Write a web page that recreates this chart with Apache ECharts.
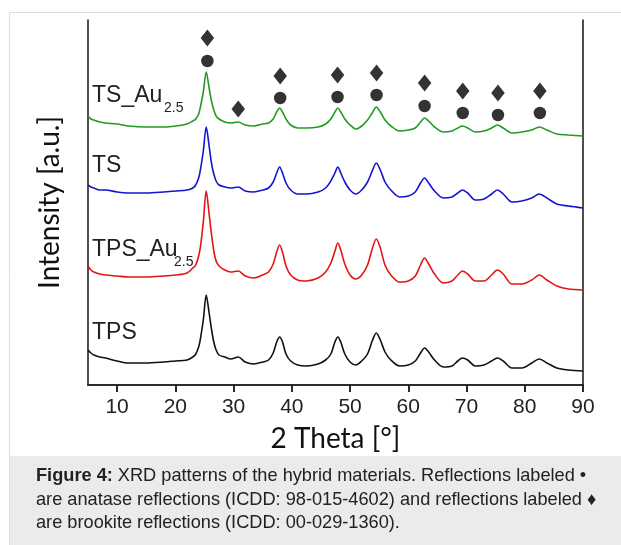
<!DOCTYPE html>
<html>
<head>
<meta charset="utf-8">
<script src="https://cdn.jsdelivr.net/npm/echarts@6/dist/echarts.min.js"></script>
<style>
html,body{margin:0;padding:0;background:#fff;}
#chart{width:621px;height:545px;}
</style>
</head>
<body>
<div id="chart"></div>
<script>
// 2 Theta positions (degrees)
var twoTheta = [5, 5.5, 6, 7, 8, 10, 12, 15, 18, 20,
  22, 23, 23.5, 24, 24.3, 24.8, 25.3, 25.8, 26.2, 26.6,
  27.0, 27.5, 28.5, 29.5, 30.8, 32, 33.5, 35, 36, 36.8,
  37.4, 37.9, 38.4, 39.0, 39.8, 41, 42.5, 44.5, 45.8, 46.7,
  47.4, 47.9, 48.4, 49.1, 50, 51, 52, 53, 53.8, 54.5,
  55.2, 56.0, 57, 58.5, 60, 61.2, 62.1, 62.8, 63.5, 64.5,
  66, 67.5, 68.5, 69.3, 70.2, 71.5, 73, 74.3, 75.3, 76.3,
  77.8, 79.5, 81.2, 82.5, 83.8, 85.5, 87.5, 90];

// Intensities (a.u., vertically offset patterns)
var tsAu = [269, 266, 265, 263, 262, 261, 259, 258, 258, 259,
  261, 264, 266, 271, 278, 293, 313, 297, 284, 275,
  269, 266, 263, 262, 263, 260, 259, 261, 262, 266,
  273, 277, 273, 266, 260, 257, 257, 258, 261, 266,
  273, 277, 273, 266, 260, 256, 259, 265, 272, 278,
  273, 265, 259, 254, 255, 257, 263, 267, 264, 258,
  253, 254, 257, 259, 257, 253, 254, 257, 260, 257,
  252, 253, 255, 258, 255, 251, 250, 249];
var ts = [200, 198, 197, 195, 195, 193, 192, 192, 193, 194,
  195, 197, 200, 207, 215, 234, 258, 239, 222, 211,
  204, 200, 198, 197, 198, 194, 193, 195, 197, 203,
  212, 218, 212, 202, 195, 191, 191, 193, 197, 204,
  212, 218, 212, 203, 195, 191, 195, 203, 214, 222,
  215, 203, 195, 188, 189, 193, 202, 207, 202, 194,
  187, 188, 192, 195, 192, 185, 186, 191, 195, 191,
  183, 184, 187, 191, 187, 181, 179, 177];
var tpsAu = [119, 115, 113, 111, 110, 109, 108, 108, 109, 110,
  112, 117, 120, 129, 138, 163, 194, 171, 151, 134,
  124, 119, 115, 113, 114, 109, 107, 110, 113, 121,
  133, 140, 133, 119, 110, 105, 104, 107, 113, 122,
  134, 142, 135, 121, 110, 106, 110, 120, 136, 146,
  137, 120, 110, 103, 104, 109, 120, 127, 121, 111,
  102, 104, 110, 114, 111, 104, 104, 110, 115, 111,
  101, 101, 105, 110, 105, 99, 96, 95];
var tps = [35, 32, 30, 28, 27, 24, 22, 22, 23, 24,
  25, 28, 31, 38, 46, 65, 90, 72, 56, 43,
  35, 30, 28, 26, 28, 23, 21, 23, 25, 32,
  43, 48, 43, 31, 24, 20, 19, 21, 25, 31,
  43, 48, 43, 31, 23, 20, 24, 31, 44, 52,
  45, 33, 25, 19, 20, 24, 32, 37, 33, 25,
  18, 19, 24, 27, 25, 19, 20, 24, 27, 24,
  17, 17, 22, 26, 22, 17, 15, 14];

// Reflection markers
var anataseX = [25.5, 38.0, 47.85, 54.55, 62.8, 69.35, 75.4, 82.6];
var anataseY = [324, 287, 288, 290, 279, 272, 270, 272];
var brookiteX = [25.5, 30.8, 38.0, 47.85, 54.55, 62.8, 69.35, 75.4, 82.6];
var brookiteY = [347, 276, 309, 310, 312, 302, 294, 292, 294];

var xTicks = [10, 20, 30, 40, 50, 60, 70, 80, 90];
var seriesNames = ['TS_Au', 'TS', 'TPS_Au', 'TPS'];
var seriesSubs = ['2.5', '', '2.5', ''];
var seriesColors = ['#239a23', '#1515d0', '#e41414', '#111111'];
var captionLines = [
  '{b|Figure 4:} XRD patterns of the hybrid materials. Reflections labeled •',
  'are anatase reflections (ICDD: 98-015-4602) and reflections labeled ♦',
  'are brookite reflections (ICDD: 00-029-1360).'
];

function pairs(xs, ys) { return xs.map(function (x, i) { return [x, ys[i]]; }); }

var chart = echarts.init(document.getElementById('chart'), null, {renderer: 'canvas'});

var labelFont = 'Liberation Sans, Arial, sans-serif';
var titleFont = 'Lato, Carlito, sans-serif';

var curves = [tsAu, ts, tpsAu, tps];
var series = curves.map(function (c, i) {
  return {
    type: 'line', name: seriesNames[i] + seriesSubs[i], data: pairs(twoTheta, c),
    showSymbol: false, smooth: 0.3, silent: true,
    lineStyle: {color: seriesColors[i], width: 1.6}, z: 3
  };
});
series.push({
  type: 'scatter', name: 'anatase', data: pairs(anataseX, anataseY),
  symbol: 'circle', symbolSize: 12.5, itemStyle: {color: '#000'}, z: 4
});
series.push({
  type: 'scatter', name: 'brookite', data: pairs(brookiteX, brookiteY),
  symbol: 'diamond', symbolSize: [13.5, 17], itemStyle: {color: '#000'}, z: 4
});

var labelTops = [84, 154, 238, 321];
var subTops = [101, 0, 255, 0];
var subLefts = [164, 0, 174, 0];
var capTops = [467, 491, 514];
var graphics = [
  {type: 'rect', shape: {x: 10, y: 456, width: 611, height: 89}, style: {fill: '#ebebeb'}, z: -10},
  {type: 'line', shape: {x1: 9.5, y1: 12.5, x2: 621, y2: 12.5}, style: {stroke: '#dedede', lineWidth: 1}},
  {type: 'line', shape: {x1: 9.5, y1: 12.5, x2: 9.5, y2: 545}, style: {stroke: '#dedede', lineWidth: 1}}
];
captionLines.forEach(function (t, i) {
  graphics.push({type: 'text', left: 36, top: capTops[i], style: {text: t, font: '18.2px Liberation Sans, Arial, sans-serif', fill: '#222',
    rich: {b: {fontWeight: 'bold', fontSize: 18.2, fontFamily: 'Liberation Sans, Arial, sans-serif', fill: '#222'}}}});
});
seriesNames.forEach(function (n, i) {
  graphics.push({type: 'text', left: 92, top: labelTops[i], style: {text: n, font: '23px Liberation Sans, Arial, sans-serif', fill: '#222'}});
  if (seriesSubs[i]) {
    graphics.push({type: 'text', left: subLefts[i], top: subTops[i], style: {text: seriesSubs[i], font: '14px Liberation Sans, Arial, sans-serif', fill: '#222'}});
  }
});

var axisLineStyle = {color: '#222', width: 1.6};
chart.setOption({
  animation: false,
  backgroundColor: 'transparent',
  grid: {left: 88, right: 38, top: 20, bottom: 160, containLabel: false},
  xAxis: [
    {type: 'value', position: 'bottom', min: 5, max: 90,
     name: '2 Theta [°]', nameLocation: 'middle', nameGap: 40,
     nameTextStyle: {fontFamily: titleFont, fontSize: 28, color: '#111'},
     axisLine: {show: true, lineStyle: axisLineStyle},
     axisTick: {show: true, inside: false, length: 7, customValues: xTicks, lineStyle: axisLineStyle},
     axisLabel: {show: true, customValues: xTicks, fontFamily: labelFont, fontSize: 21, color: '#222', margin: 12},
     splitLine: {show: false}},
    {type: 'value', position: 'top', min: 5, max: 90,
     axisLine: {show: true, lineStyle: axisLineStyle},
     axisTick: {show: true, inside: true, length: 7, customValues: xTicks, lineStyle: axisLineStyle},
     axisLabel: {show: false}, splitLine: {show: false}}
  ],
  yAxis: [
    {type: 'value', position: 'left', min: 0, max: 365,
     name: 'Intensity [a.u.]', nameLocation: 'middle', nameGap: 24, nameRotate: 90,
     nameTextStyle: {fontFamily: titleFont, fontSize: 28, color: '#111'},
     axisLine: {show: true, lineStyle: axisLineStyle}, axisTick: {show: false},
     axisLabel: {show: false}, splitLine: {show: false}},
    {type: 'value', position: 'right', min: 0, max: 365,
     axisLine: {show: true, lineStyle: axisLineStyle}, axisTick: {show: false},
     axisLabel: {show: false}, splitLine: {show: false}}
  ],
  series: series,
  graphic: graphics
});
</script>
</body>
</html>
